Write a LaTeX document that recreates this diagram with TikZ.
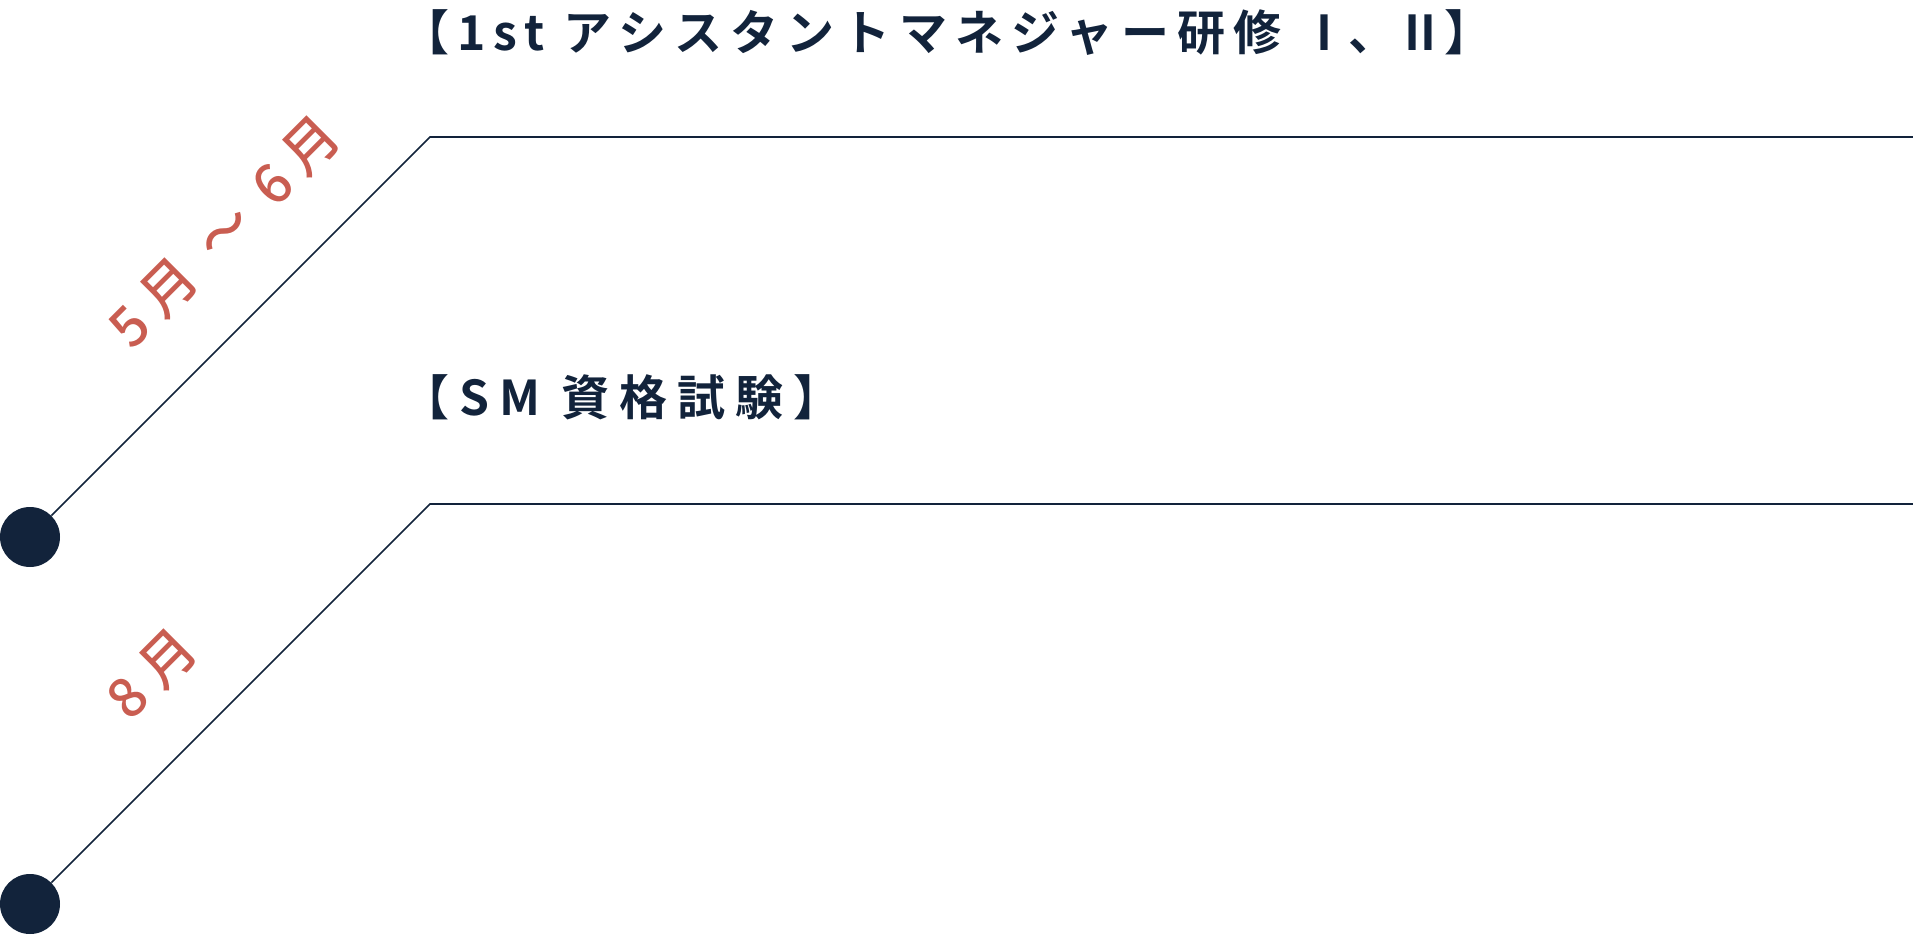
\documentclass[tikz,border=0pt]{standalone}
\usepackage{fontspec}
\usepackage{xcolor}
\newfontfamily\titlefont{Noto Sans CJK JP Bold}[LetterSpace=17]
\newfontfamily\monthfont{Noto Sans CJK JP Medium}[LetterSpace=22]
\definecolor{navy}{HTML}{12233B}
\definecolor{brick}{HTML}{C95D51}

\tikzset{
  dot/.style={circle, fill=navy, inner sep=0pt, minimum size=45pt},
  title/.style={anchor=west, inner sep=0pt, text=navy, font=\titlefont\fontsize{36}{40}\selectfont},
  month/.style={rotate=45, inner sep=0pt, text=brick, font=\monthfont\fontsize{41}{45}\selectfont},
  track/.style={navy, line width=1.2pt}
}

\begin{document}
\begin{tikzpicture}[x=0.75pt, y=-0.75pt]

    \useasboundingbox (0, 0) rectangle (1913, 935);

    \node[dot] (dot1) at (30, 537) {};
    \node[dot] (dot2) at (30, 904) {};
    \coordinate (bend1) at (430, 137);
    \coordinate (bend2) at (430, 504);
    \coordinate (end1) at (1913, 137);
    \coordinate (end2) at (1913, 504);

    \node[title] (assist) at (401, 33) {【1st アシスタントマネジャー研修 \addfontfeature{LetterSpace=0}Ⅰ、Ⅱ】};
    \node[title] (exam) at (401, 397) {\addfontfeature{LetterSpace=21}【SM 資格試験】};

    \node[month] (may) at (225, 232) {5月 ～ 6月};
    \node[month] (aug) at (152, 674) {8\hspace{.25em}月};

    \draw [track] (dot1) -- (bend1) -- (end1);
    \draw [track] (dot2) -- (bend2) -- (end2);

\end{tikzpicture}
\end{document}
